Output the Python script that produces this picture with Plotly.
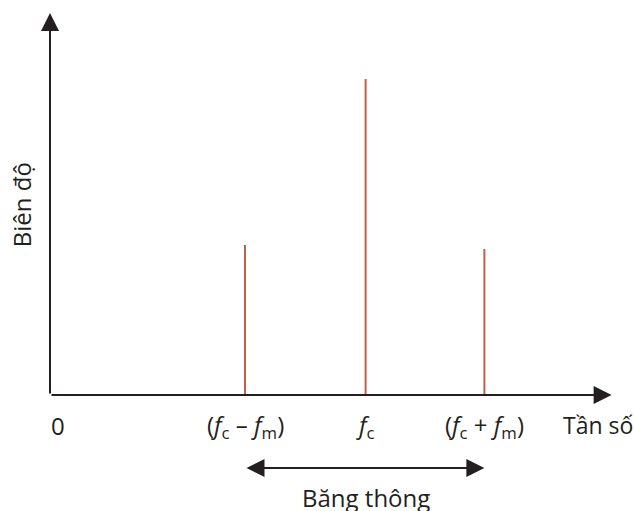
import plotly.graph_objects as go

# Data
freq_labels = ["(<i>f</i><sub>c</sub> – <i>f</i><sub>m</sub>)", "<i>f</i><sub>c</sub>", "(<i>f</i><sub>c</sub> + <i>f</i><sub>m</sub>)"]
freqs = [1.625, 2.63, 3.62]
amplitudes = [1.50, 3.16, 1.46]
x_axis_label = "Tần số"
y_axis_label = "Biên độ"
band_label = "Băng thông"

line_color = "#c0604a"
axis_color = "#231f20"
font_family = "Open Sans, Noto Sans, sans-serif"

xs, ys = [], []
for f, a in zip(freqs, amplitudes):
    xs += [f, f, None]
    ys += [0, a, None]

fig = go.Figure()
fig.add_trace(go.Scatter(x=xs, y=ys, mode="lines",
                         line=dict(color=line_color, width=2),
                         hoverinfo="skip", showlegend=False))

annotations = []
# x axis arrow
annotations.append(dict(x=4.68, y=0, ax=0, ay=0, xref="x", yref="y", axref="x", ayref="y",
                        showarrow=True, arrowhead=2, arrowsize=1.8, arrowwidth=2,
                        arrowcolor=axis_color, text=""))
# y axis arrow
annotations.append(dict(x=0, y=3.82, ax=0, ay=0, xref="x", yref="y", axref="x", ayref="y",
                        showarrow=True, arrowhead=2, arrowsize=1.8, arrowwidth=2,
                        arrowcolor=axis_color, text=""))
# bandwidth double arrow
annotations.append(dict(x=freqs[2], y=-0.73, ax=freqs[0], ay=-0.73, xref="x", yref="y",
                        axref="x", ayref="y", showarrow=True, arrowhead=2, startarrowhead=2,
                        arrowside="end+start", arrowsize=1.8, startarrowsize=1.8,
                        arrowwidth=2, arrowcolor=axis_color, text=""))

label_font = dict(family=font_family, size=24, color=axis_color)
# tick-like labels
annotations.append(dict(x=0.07, y=-0.30, xref="x", yref="y", text="0",
                        showarrow=False, font=label_font))
for f, lab in zip(freqs, freq_labels):
    annotations.append(dict(x=f, y=-0.31, xref="x", yref="y", text=lab,
                            showarrow=False, font=label_font))
annotations.append(dict(x=4.565, y=-0.30, xref="x", yref="y", text=x_axis_label,
                        showarrow=False,
                        font=dict(family=font_family, size=23, color=axis_color)))
annotations.append(dict(x=-0.24, y=1.90, xref="x", yref="y", text=y_axis_label,
                        showarrow=False, textangle=-90, font=label_font))
annotations.append(dict(x=freqs[1], y=-1.02, xref="x", yref="y", text=band_label,
                        showarrow=False, font=label_font))

fig.update_layout(
    width=634, height=511,
    margin=dict(l=0, r=0, t=0, b=0),
    paper_bgcolor="white", plot_bgcolor="white",
    xaxis=dict(range=[-50/120, 584/120], visible=False, fixedrange=True),
    yaxis=dict(range=[-1.16, 3.95], visible=False, fixedrange=True),
    annotations=annotations,
    showlegend=False,
)

# remove the browser's default page margin so the figure fills the window exactly
fig.write_html("out.html",
               config={"displayModeBar": False},
               post_script="document.body.style.margin='0';document.body.style.overflow='hidden';")
